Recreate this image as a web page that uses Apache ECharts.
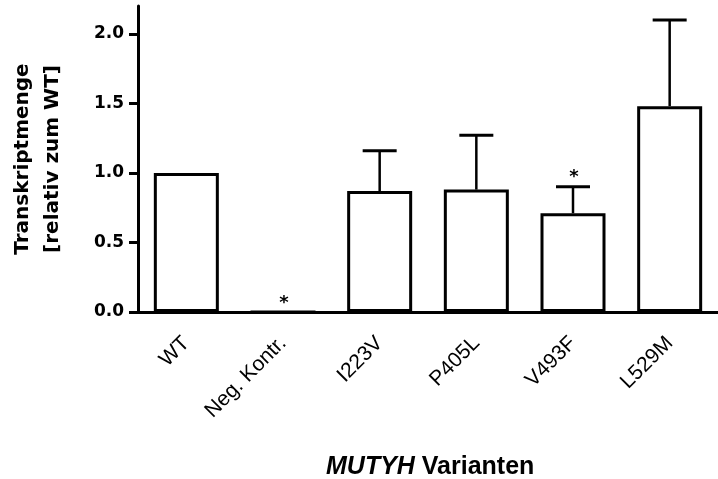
<!DOCTYPE html>
<html>
<head>
<meta charset="utf-8">
<script src="https://cdn.jsdelivr.net/npm/echarts@6/dist/echarts.min.js"></script>
<style>
  html, body { margin: 0; padding: 0; background: #fff; }
  #chart { width: 718px; height: 479px; }
</style>
</head>
<body>
<div id="chart"></div>
<script>
// Daten
const categories = ['WT', 'Neg. Kontr.', 'I223V', 'P405L', 'V493F', 'L529M'];
const means = [1.0, 0, 0.87, 0.88, 0.71, 1.48];
const errors = [0, 0, 0.29, 0.39, 0.19, 0.62];
const significant = [false, true, false, false, true, false];
const yTicks = [0, 0.5, 1.0, 1.5, 2.0];

const font = 'DejaVu Sans';
const arial = 'Liberation Sans';

document.addEventListener('DOMContentLoaded', function() {
    const chart = echarts.init(document.getElementById('chart'));

    const errData = categories.map(function(c, i) {
        return [i, means[i], errors[i], significant[i] ? 1 : 0];
    });

    chart.setOption({
        animation: false,
        grid: { left: 137, top: 6, width: 592, height: 306 },
        xAxis: {
            type: 'category',
            data: categories,
            axisLine: { lineStyle: { color: '#000', width: 3 } },
            axisTick: { alignWithLabel: true, length: 9, lineStyle: { color: '#000', width: 3 } },
            axisLabel: {
                rotate: 45, margin: 28, color: '#000',
                fontFamily: arial, fontSize: 21
            }
        },
        yAxis: {
            type: 'value',
            min: 0, max: 2.2, interval: 0.5,
            name: 'Transkriptmenge\n[relativ zum WT]',
            nameLocation: 'middle',
            nameRotate: 90,
            nameGap: 70,
            nameTextStyle: {
                color: '#000', fontFamily: font, fontSize: 20,
                fontWeight: 'bold', lineHeight: 30
            },
            splitLine: { show: false },
            axisLine: { show: true, lineStyle: { color: '#000', width: 3 } },
            axisTick: { show: true, length: 9, customValues: yTicks, lineStyle: { color: '#000', width: 3 } },
            axisLabel: {
                customValues: yTicks, margin: 14, color: '#000',
                fontFamily: font, fontSize: 17, fontWeight: 'bold',
                formatter: function(v) { return v.toFixed(1); }
            }
        },
        graphic: [{
            type: 'text',
            left: 326, top: 455,
            style: {
                text: '{i|MUTYH} Varianten',
                fill: '#000',
                fontFamily: arial, fontSize: 25, fontWeight: 'bold',
                rich: {
                    i: { fontFamily: arial, fontSize: 25, fontWeight: 'bold', fontStyle: 'italic', fill: '#000' }
                }
            }
        }],
        series: [{
            type: 'bar',
            data: means,
            barWidth: 65,
            itemStyle: { color: '#fff', borderColor: '#000', borderWidth: 3 },
            z: 2
        }, {
            type: 'custom',
            data: errData,
            z: 3,
            renderItem: function(params, api) {
                const i = api.value(0);
                const m = api.value(1);
                const e = api.value(2);
                const s = api.value(3);
                const base = api.coord([i, m]);
                const top = api.coord([i, m + e]);
                const children = [];
                if (e > 0) {
                    children.push({
                        type: 'line',
                        shape: { x1: base[0], y1: base[1], x2: top[0], y2: top[1] },
                        style: { stroke: '#000', lineWidth: 2.5 }
                    });
                    children.push({
                        type: 'line',
                        shape: { x1: top[0] - 17, y1: top[1], x2: top[0] + 17, y2: top[1] },
                        style: { stroke: '#000', lineWidth: 3 }
                    });
                }
                if (s) {
                    children.push({
                        type: 'text',
                        style: {
                            text: '*', x: top[0] + 1, y: top[1] - 9,
                            align: 'center', verticalAlign: 'middle',
                            fontFamily: font, fontSize: 18, fontWeight: 'bold', fill: '#000'
                        }
                    });
                }
                return { type: 'group', children: children };
            }
        }]
    });
});
</script>
</body>
</html>
